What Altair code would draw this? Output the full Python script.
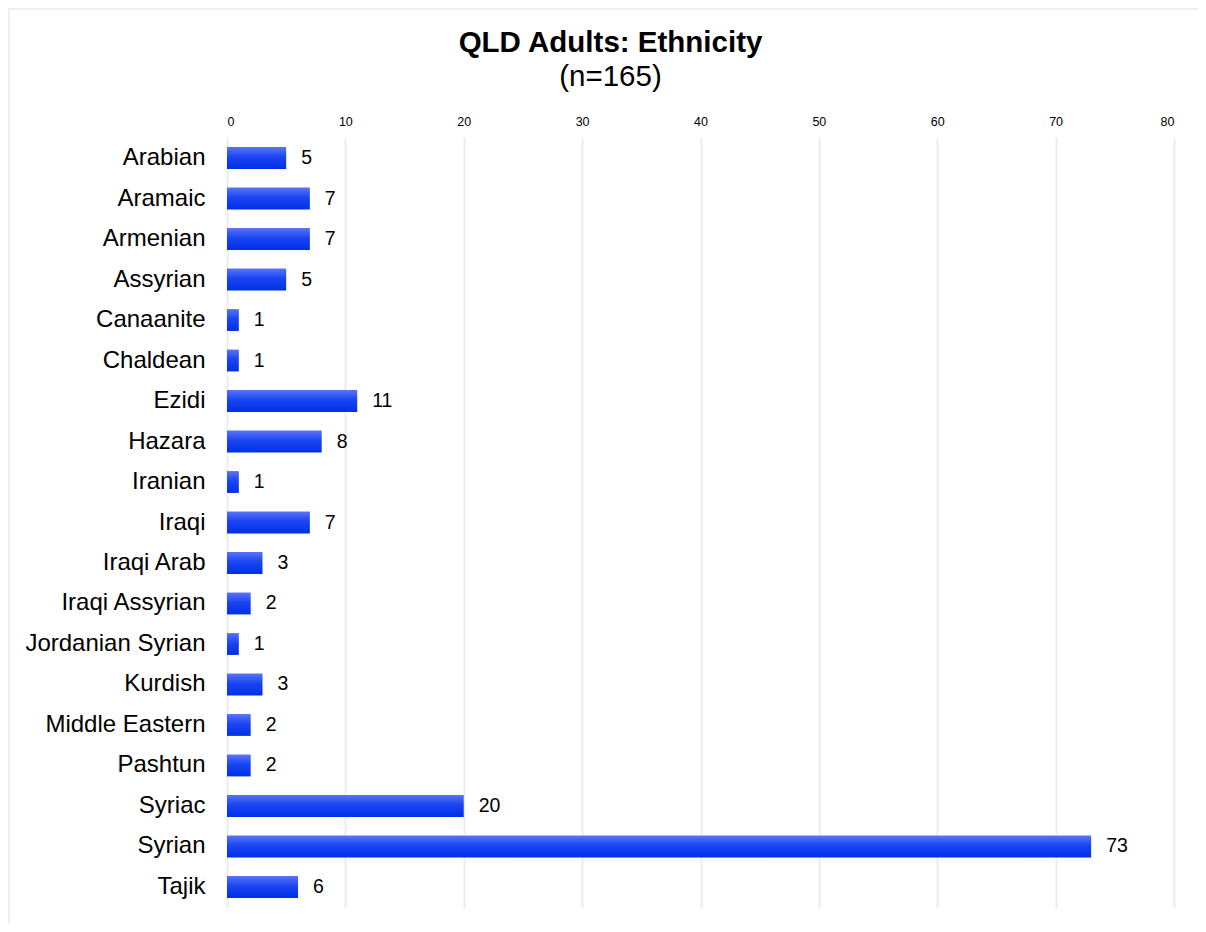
import altair as alt
import pandas as pd

categories = ["Arabian", "Aramaic", "Armenian", "Assyrian", "Canaanite", "Chaldean",
              "Ezidi", "Hazara", "Iranian", "Iraqi", "Iraqi Arab", "Iraqi Assyrian",
              "Jordanian Syrian", "Kurdish", "Middle Eastern", "Pashtun", "Syriac",
              "Syrian", "Tajik"]
counts = [5, 7, 7, 5, 1, 1, 11, 8, 1, 7, 3, 2, 1, 3, 2, 2, 20, 73, 6]
x_ticks = [0, 10, 20, 30, 40, 50, 60, 70, 80]

df = pd.DataFrame({"category": categories, "count": counts})

FONT = "Liberation Sans"

grad = alt.Gradient(
    gradient="linear",
    stops=[alt.GradientStop(color="#5a74f7", offset=0),
           alt.GradientStop(color="#1a45f2", offset=0.45),
           alt.GradientStop(color="#0030e6", offset=1)],
    x1=0, x2=0, y1=0, y2=1,
)

x_enc = alt.X("count:Q",
              scale=alt.Scale(domain=[0, 80], nice=False),
              axis=alt.Axis(orient="top", values=x_ticks, title=None, domain=False,
                            ticks=False, labelFontSize=12.5, labelPadding=9,
                            labelColor="#000000", labelFont=FONT,
                            grid=True, gridColor="#ededed", gridWidth=2))
y_enc = alt.Y("category:N", sort=categories,
              scale=alt.Scale(paddingInner=0.46, paddingOuter=0.25),
              axis=alt.Axis(title=None, domain=False, ticks=False, labelFontSize=24,
                            labelPadding=22, labelColor="#000000", labelFont=FONT,
                            labelLimit=400))

bars = alt.Chart(df).mark_bar(color=grad).encode(x=x_enc, y=y_enc)
labels = alt.Chart(df).mark_text(align="left", baseline="middle", dx=15, fontSize=19.5,
                                 font=FONT, color="#000000").encode(
    x="count:Q", y=alt.Y("category:N", sort=categories), text="count:Q")

# faint outer frame (left and top edges) of the chart card
frame_left = alt.Chart(df).mark_rule(color="#efefef", strokeWidth=2).encode(
    x=alt.value(-218), y=alt.value(-130), y2=alt.value(800))
frame_top = alt.Chart(df).mark_rule(color="#efefef", strokeWidth=2).encode(
    x=alt.value(-218), x2=alt.value(990), y=alt.value(-128))

chart = (frame_left + frame_top + bars + labels).properties(
    width=947, height=771,
    title=alt.TitleParams(text="QLD Adults: Ethnicity", subtitle="(n=165)",
                          anchor="middle", frame="group", dx=-90, offset=-86,
                          font=FONT, fontSize=29.5, fontWeight="bold", color="#000000",
                          subtitleFont=FONT, subtitleFontSize=29.5, subtitleColor="#000000",
                          subtitlePadding=4),
    autosize=alt.AutoSizeParams(type="none"),
    padding={"left": 219, "top": 129, "right": 24, "bottom": 16},
).configure(background="#ffffff").configure_view(stroke=None)

chart.save("out.html", embed_options={"renderer": "svg", "actions": False})
